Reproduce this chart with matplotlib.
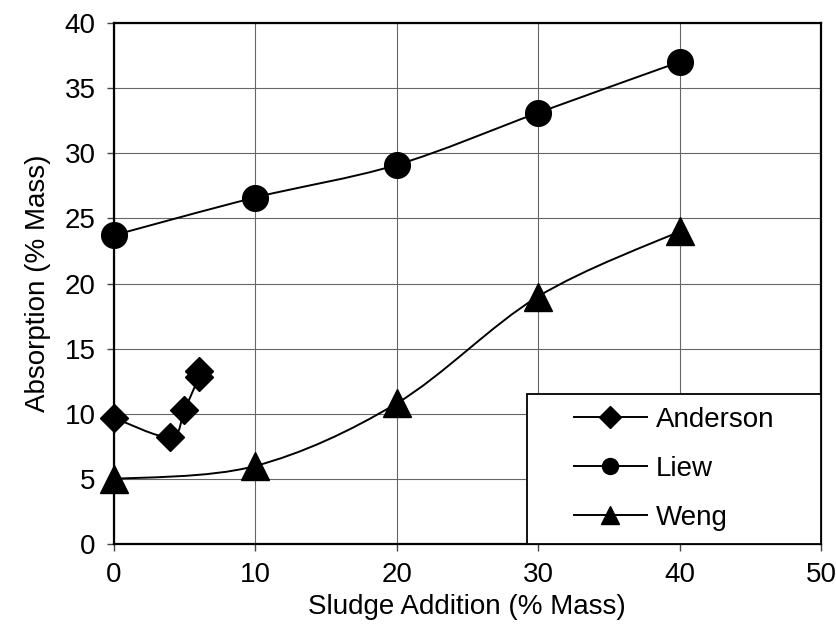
import numpy as np
import matplotlib
matplotlib.use('Agg')
from matplotlib import pyplot as plt
from matplotlib.path import Path
from matplotlib.patches import PathPatch, Rectangle
from matplotlib.lines import Line2D

plt.rcParams['font.family'] = ['Liberation Sans', 'DejaVu Sans']

# absorption vs sludge addition for three studies
anderson_x = [0, 4, 5, 6, 6]
anderson_y = [9.7, 8.2, 10.3, 12.8, 13.3]
liew_x = [0, 10, 20, 30, 40]
liew_y = [23.7, 26.6, 29.1, 33.1, 37.0]
weng_x = [0, 10, 20, 30, 40]
weng_y = [5.0, 6.0, 10.8, 19.0, 24.0]

x_ticks = [0, 10, 20, 30, 40, 50]
y_ticks = [0, 5, 10, 15, 20, 25, 30, 35, 40]


def smooth_path(xs, ys):
    '''
    Bezier path through the points, spreadsheet style smoothing
    '''
    pts = np.column_stack([xs, ys]).astype(float)
    n = len(pts)
    verts = [pts[0]]
    codes = [Path.MOVETO]
    for i in range(n - 1):
        p0 = pts[i - 1] if i > 0 else pts[i]
        p1 = pts[i]
        p2 = pts[i + 1]
        p3 = pts[i + 2] if i + 2 < n else pts[i + 1]
        c1 = p1 + (p2 - p0) / 6.0
        c2 = p2 - (p3 - p1) / 6.0
        verts += [c1, c2, p2]
        codes += [Path.CURVE4] * 3
    return Path(verts, codes)


fig = plt.figure(figsize=(8.36, 6.35), dpi=100)
ax = fig.add_axes([0.136, 0.143, 0.846, 0.821])

# name, x, y, marker, plot marker size, legend marker size
series = [
    ('Anderson', anderson_x, anderson_y, 'D', 14.5, 11),
    ('Liew', liew_x, liew_y, 'o', 18.5, 11.5),
    ('Weng', weng_x, weng_y, '^', 20, 13.5),
]

handles = []
for name, xs, ys, mk, ms, lms in series:
    ax.add_patch(PathPatch(smooth_path(xs, ys), facecolor='none',
                           edgecolor='black', lw=1.4, zorder=3))
    ax.plot(xs, ys, linestyle='none', marker=mk, markersize=ms,
            color='black', zorder=4, clip_on=False)
    handles.append(Line2D([], [], color='black', lw=1.4, marker=mk,
                          markersize=lms, label=name))

ax.set_xlim(0, 50)
ax.set_ylim(0, 40)
ax.set_xticks(x_ticks)
ax.set_yticks(y_ticks)
ax.grid(True, color='#666666', lw=0.8)
ax.set_axisbelow(True)
ax.tick_params(direction='out', length=5, width=1, labelsize=20, pad=8,
               color='#444444')
for s in ax.spines.values():
    s.set_linewidth(1.6)
    s.set_color('black')

ax.set_xlabel('Sludge Addition (% Mass)', fontsize=20, labelpad=4)
ax.set_ylabel('Absorption (% Mass)', fontsize=20, labelpad=10)

# legend box sits flush in the lower right corner
box = (0.584, 0.0, 0.416, 0.289)
ax.add_patch(Rectangle(box[:2], box[2], box[3], transform=ax.transAxes,
                       facecolor='white', edgecolor='black', lw=1.3,
                       zorder=5))
leg = ax.legend(handles=handles, loc='center', bbox_to_anchor=box,
                frameon=False, fontsize=20, handlelength=2.65,
                handletextpad=0.3, labelspacing=0.82, borderpad=0,
                borderaxespad=0)
leg.set_zorder(6)

fig.savefig('out.png', dpi=100)
